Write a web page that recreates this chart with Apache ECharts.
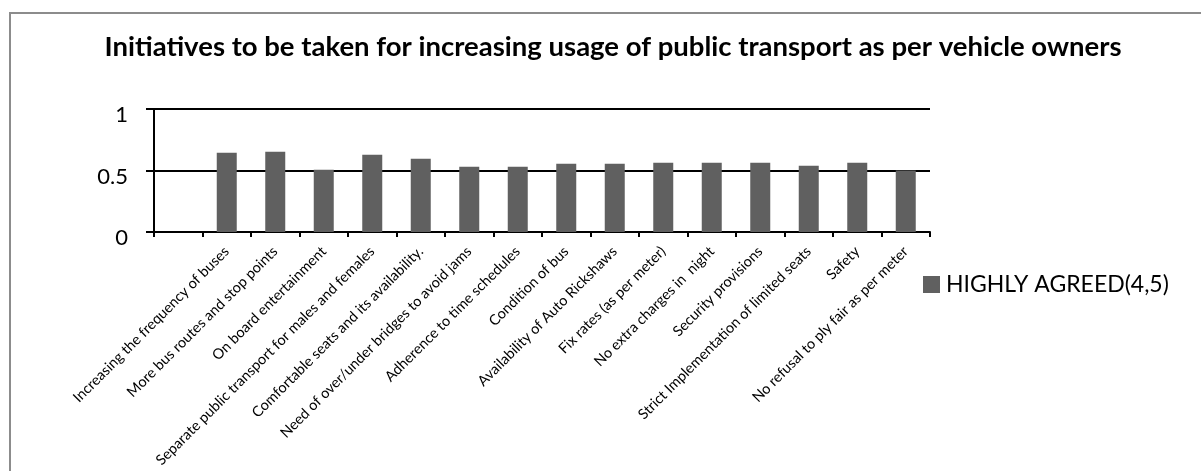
<!DOCTYPE html>
<html>
<head>
<meta charset="utf-8">
<script src="https://cdn.jsdelivr.net/npm/echarts@6/dist/echarts.min.js"></script>
<style>
html,body{margin:0;padding:0;background:#fff;}
#c{width:1201px;height:471px;}
</style>
</head>
<body>
<div id="c"></div>
<script>
const titleText = 'Initiatives to be taken for increasing usage of public transport as per vehicle owners';
const seriesName = 'HIGHLY AGREED(4,5)';
const categories = [
  '',
  'Increasing the frequency of buses',
  'More bus routes and stop points',
  'On board entertainment',
  'Separate public transport for males and females',
  'Comfortable seats and its availability.',
  'Need of over/under bridges to avoid jams',
  'Adherence to time schedules',
  'Condition of bus',
  'Availability of Auto Rickshaws',
  'Fix rates (as per meter)',
  'No extra charges in  night',
  'Security provisions',
  'Strict Implementation of limited seats',
  'Safety',
  'No refusal to ply fair as per meter'
];
const values = ['-', 0.645, 0.653, 0.507, 0.628, 0.596, 0.531, 0.531, 0.555, 0.555, 0.563, 0.563, 0.563, 0.539, 0.563, 0.5];
const yTicks = { min: 0, max: 1, interval: 0.5 };

const FONT = 'Lato';
const chart = echarts.init(document.getElementById('c'), null, { renderer: 'canvas' });
chart.setOption({
  animation: false,
  backgroundColor: '#ffffff',
  title: {
    text: titleText,
    left: 608, textAlign: 'center', top: 28,
    textStyle: { fontFamily: FONT, fontWeight: 'bold', fontSize: 27.5, color: '#000' }
  },
  graphic: [{
    type: 'rect', silent: true,
    shape: { x: 10, y: 13, width: 1300, height: 600 },
    style: { fill: 'none', stroke: '#8c8c8c', lineWidth: 2 }
  }],
  legend: {
    left: 918, top: 268,
    itemWidth: 17, itemHeight: 17,
    icon: 'rect',
    textStyle: { fontFamily: FONT, fontSize: 23, color: '#000', padding: [0,0,0,1] },
    data: [seriesName]
  },
  grid: { left: 154, right: 271, top: 109, bottom: 239 },
  xAxis: {
    type: 'category',
    data: categories,
    boundaryGap: true,
    axisLine: { show: true, lineStyle: { color: '#000', width: 2 } },
    axisTick: { show: true, length: 5, lineStyle: { color: '#000', width: 2 } },
    axisLabel: { interval: 0, rotate: 45, margin: 17, fontFamily: FONT, fontSize: 14.5, color: '#000' },
    splitLine: { show: false }
  },
  yAxis: {
    type: 'value',
    min: yTicks.min, max: yTicks.max, interval: yTicks.interval,
    axisLine: { show: true, lineStyle: { color: '#000', width: 2 } },
    axisTick: { show: true, length: 8, lineStyle: { color: '#000', width: 2 } },
    axisLabel: { margin: 26, fontFamily: FONT, fontSize: 22, color: '#000', verticalAlign: 'top', lineHeight: 12 },
    splitLine: { show: true, lineStyle: { color: '#000', width: 2 } }
  },
  series: [{
    name: seriesName,
    type: 'bar',
    data: values,
    barWidth: 20,
    itemStyle: { color: '#606060' }
  }]
});
</script>
</body>
</html>
